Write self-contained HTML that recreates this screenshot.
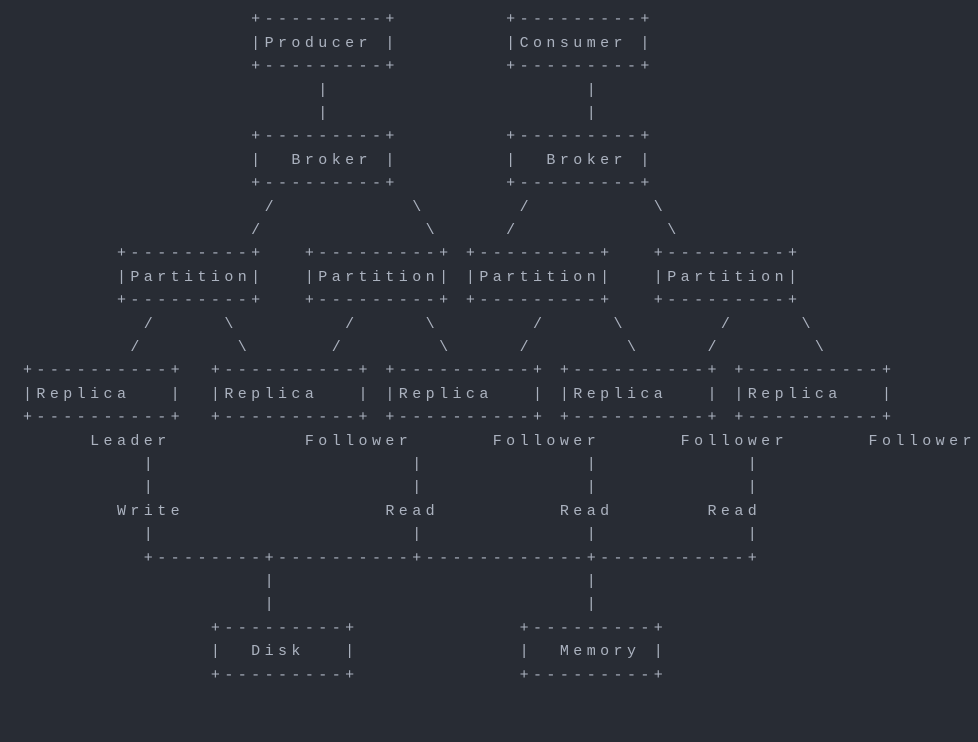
<!DOCTYPE html>
<html><head><meta charset="utf-8"><style>
html,body{margin:0;padding:0;background:#282c34;width:978px;height:742px;overflow:hidden}
pre{margin:0;padding:8.3px 0 0 23px;font-family:"Liberation Mono",monospace;font-size:15px;letter-spacing:4.42px;line-height:23.4px;color:#abb2bf}
</style></head><body><pre>                 +---------+        +---------+
                 |Producer |        |Consumer |
                 +---------+        +---------+
                      |                   |
                      |                   |
                 +---------+        +---------+
                 |  Broker |        |  Broker |
                 +---------+        +---------+
                  /          \       /         \
                 /            \     /           \
       +---------+   +---------+ +---------+   +---------+
       |Partition|   |Partition| |Partition|   |Partition|
       +---------+   +---------+ +---------+   +---------+
         /     \        /     \       /     \       /     \
        /       \      /       \     /       \     /       \
+----------+  +----------+ +----------+ +----------+ +----------+
|Replica   |  |Replica   | |Replica   | |Replica   | |Replica   |
+----------+  +----------+ +----------+ +----------+ +----------+
     Leader          Follower      Follower      Follower      Follower
         |                   |            |           |
         |                   |            |           |
       Write               Read         Read       Read
         |                   |            |           |
         +--------+----------+------------+-----------+
                  |                       |
                  |                       |
              +---------+            +---------+
              |  Disk   |            |  Memory |
              +---------+            +---------+
</pre></body></html>
